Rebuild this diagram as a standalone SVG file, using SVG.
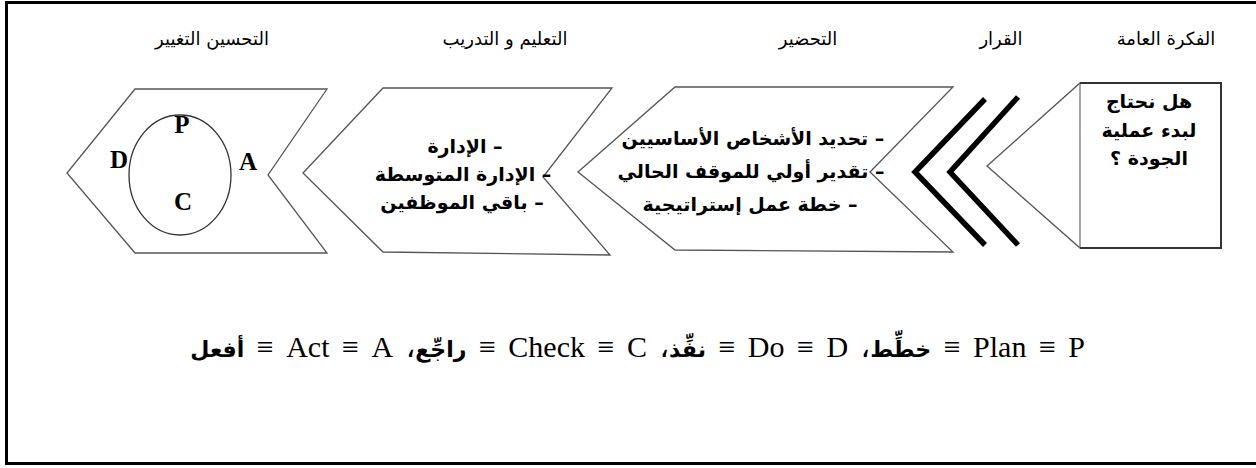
<svg xmlns="http://www.w3.org/2000/svg" width="1256" height="468" viewBox="0 0 1256 468">
<style>
.frame{fill:none;stroke:#000;stroke-width:3}
.shape{fill:#fff;stroke:#555;stroke-width:1.3}
.edge{fill:none;stroke:#333;stroke-width:2}
.thick{fill:none;stroke:#000;stroke-width:5.5;stroke-linejoin:miter}
.hdr{font-family:"DejaVu Sans","Liberation Sans",sans-serif;font-size:18px;fill:#000;text-anchor:middle}
.body{font-family:"DejaVu Sans","Liberation Sans",sans-serif;font-size:19px;font-weight:bold;fill:#000;text-anchor:middle}
.ltr{font-family:"Liberation Serif","DejaVu Serif",serif;font-size:25px;font-weight:bold;fill:#000;text-anchor:middle}
.formula{font-family:"Liberation Serif","DejaVu Sans",serif;font-size:30px;fill:#000;word-spacing:5px}
.ar{font-family:"DejaVu Sans",sans-serif;font-size:22px;font-weight:bold}
</style>
<rect width="1256" height="468" fill="#fff"/>
<path class="frame" d="M1256,2.5 H6.5 V463.5 H1256"/>

<g id="headers">
<text class="hdr" x="1166" y="45" direction="rtl">الفكرة العامة</text>
<text class="hdr" x="1001" y="45" direction="rtl">القرار</text>
<text class="hdr" x="808" y="45" direction="rtl">التحضير</text>
<text class="hdr" x="505" y="45" direction="rtl">التعليم و التدريب</text>
<text class="hdr" x="212" y="45" direction="rtl">التحسين  التغيير</text>
</g>

<g id="idea">
<polygon class="shape" points="1221,83 1080,83 987,166 1080,248 1221,248"/>
<line x1="1080" y1="83" x2="1080" y2="248" stroke="#777" stroke-width="1.3"/>
<path class="edge" d="M1080,83 H1221 V248 H1080"/>
<text class="body" x="1149" y="108" direction="rtl">هل نحتاج</text>
<text class="body" x="1149" y="137" direction="rtl">لبدء عملية</text>
<text class="body" x="1149" y="165" direction="rtl">الجودة ؟</text>
</g>

<g id="decision">
<polyline class="thick" points="985,99 915,172 985,245"/>
<polyline class="thick" points="1018,97 950,172 1018,245"/>
</g>

<g id="preparation">
<polygon class="shape" points="675,87 953,87 870,172 953,252 675,250 578,172"/>
<text class="body" x="753" y="145" direction="rtl">– تحديد الأشخاص الأساسيين</text>
<text class="body" x="751" y="178" direction="rtl">– تقدير أولي للموقف الحالي</text>
<text class="body" x="750" y="211" direction="rtl">–  خطة عمل إستراتيجية</text>
</g>

<g id="training">
<polygon class="shape" points="383,88 612,88 543,177 610,255 383,252 303,173"/>
<text class="body" x="465" y="153" direction="rtl">–  الإدارة</text>
<text class="body" x="463" y="181" direction="rtl">– الإدارة المتوسطة</text>
<text class="body" x="462" y="209" direction="rtl">–  باقي الموظفين</text>
</g>

<g id="improvement">
<polygon class="shape" points="135,89 327,89 268,175 327,253 135,253 67,173"/>
<ellipse cx="180" cy="175" rx="51" ry="60" fill="none" stroke="#333" stroke-width="1.3"/>
<text class="ltr" x="182" y="133">P</text>
<text class="ltr" x="119" y="168">D</text>
<text class="ltr" x="248" y="170">A</text>
<text class="ltr" x="183" y="210">C</text>
</g>

<g id="connectors"></g>

<text class="formula" x="1085" y="357" direction="rtl" text-anchor="start">P&#x200F; ≡ Plan&#x200F; ≡ <tspan class="ar">خطِّط</tspan>،  D&#x200F; ≡ Do&#x200F; ≡ <tspan class="ar">نفِّذ</tspan>،  C&#x200F; ≡ Check&#x200F; ≡ <tspan class="ar">راجِّع</tspan>،  A&#x200F; ≡ Act&#x200F; ≡ <tspan class="ar">أفعل</tspan></text>
</svg>
